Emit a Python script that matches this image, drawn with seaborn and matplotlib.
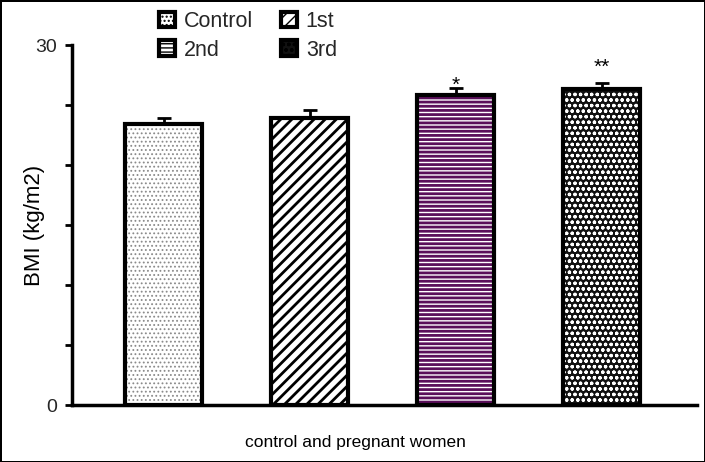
import matplotlib
matplotlib.use('Agg')
import matplotlib.pyplot as plt
import seaborn as sns
import pandas as pd
from matplotlib.patches import Patch
from matplotlib.ticker import MultipleLocator, FixedLocator

groups = ['Control', '1st', '2nd', '3rd']
bmi_mean = [23.4, 23.9, 25.8, 26.3]
bmi_se = [0.5, 0.7, 0.6, 0.5]
significance = ['', '', '*', '**']
sig_height = [0, 0, 26.6, 28.1]
y_ticks = [0, 30]
x_label = 'control and pregnant women'
y_label = 'BMI (kg/m2)'

sns.set_theme(style='white')
plt.rcParams['font.family'] = ['Liberation Sans', 'DejaVu Sans']

face = ['white', 'white', 'white', '#111111']
hatches = ['....', '///', '----', 'ooo']
hcolor = ['#8a8a8a', 'black', '#5a0f5a', 'white']
hlw = [0.8, 2.0, 2.0, 0.9]

df = pd.DataFrame({'group': groups, 'bmi': bmi_mean})

fig = plt.figure(figsize=(7.05, 4.62), dpi=100, linewidth=2, edgecolor='black')
ax = fig.add_axes([72/705, 57/462, 625/705, 360/462])

sns.barplot(data=df, x='group', y='bmi', order=groups, width=0.53, ax=ax,
            errorbar=None, zorder=2)
bars = list(ax.patches)
for p, fc, h, hc, lw in zip(bars, face, hatches, hcolor, hlw):
    p.set_facecolor(fc)
    p.set_edgecolor(hc)
    p.set_linewidth(0)
    p.set_hatch(h)
    if hasattr(p, 'set_hatch_linewidth'):
        p.set_hatch_linewidth(lw)

sns.barplot(data=df, x='group', y='bmi', order=groups, width=0.53, ax=ax,
            errorbar=None, fill=False, color='black', linewidth=3, zorder=3)

xs = [p.get_x() + p.get_width() / 2 for p in bars]
ax.errorbar(xs, bmi_mean, yerr=[[0] * len(groups), bmi_se], fmt='none',
            ecolor='black', elinewidth=2, capsize=5, capthick=2, zorder=1)

for x, s, yh in zip(xs, significance, sig_height):
    if s:
        ax.text(x, yh, s, ha='center', va='center', fontsize=15, color='black')

ax.set_xlim(-0.627, 3.654)
ax.set_ylim(0, 30)
ax.yaxis.set_major_locator(FixedLocator(y_ticks))
ax.yaxis.set_minor_locator(MultipleLocator(5))
ax.tick_params(axis='y', which='both', direction='out', length=5, width=2,
               color='black', left=True, labelsize=14, pad=6)
ax.tick_params(axis='x', bottom=False, labelbottom=False)
for s in ['top', 'right']:
    ax.spines[s].set_visible(False)
for s in ['left', 'bottom']:
    ax.spines[s].set_linewidth(2.5)
    ax.spines[s].set_color('black')

ax.set_xlabel(x_label, fontsize=12.5, color='black')
ax.xaxis.set_label_coords(0.453, -(442 - 405) / 360)
ax.xaxis.label.set_va('center')
ax.set_ylabel(y_label, fontsize=16, color='black')
ax.yaxis.set_label_coords(-0.06, 0.5)
ax.yaxis.label.set_va('center')

handles = [Patch(facecolor=fc, edgecolor='black', hatch=h, linewidth=3, label=g)
           for g, fc, h in zip(groups, face, hatches)]
order = [0, 2, 1, 3]
leg = fig.legend([handles[i] for i in order], [groups[i] for i in order],
                 ncol=2, loc='upper left', bbox_to_anchor=(159/705, 1 - 11/462),
                 frameon=False, handlelength=0.75, handleheight=0.75,
                 fontsize=15.5, columnspacing=1.3, handletextpad=0.4,
                 labelspacing=0.35, borderaxespad=0, borderpad=0)

fig.savefig('out.png', dpi=100)
